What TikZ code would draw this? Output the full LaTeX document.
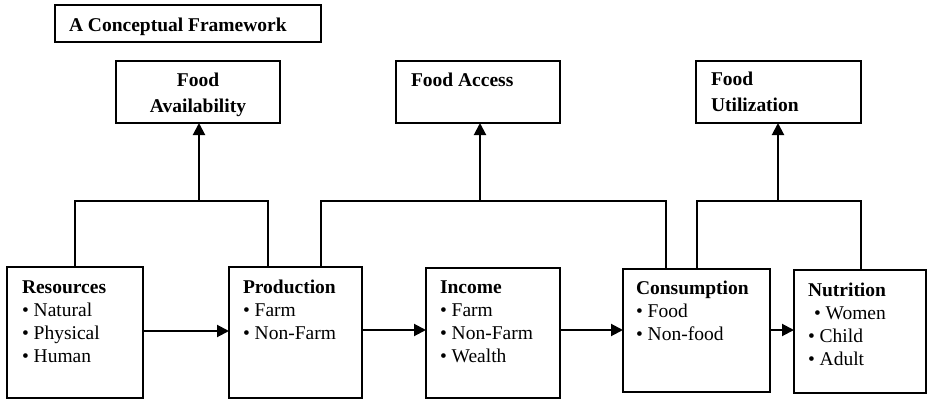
\documentclass[tikz,border=0pt]{standalone}
\usepackage{fontspec}
\setmainfont{Liberation Serif}
\usetikzlibrary{arrows.meta}
\begin{document}
\begin{tikzpicture}[x=1pt,y=-1pt,
  box/.style={draw,line width=2pt,outer sep=0pt,inner sep=0pt,anchor=north west},
  txt/.style={inner sep=0pt,outer sep=0pt,anchor=north west,align=left,font=\fontsize{19.5}{22.7}\selectfont},
  toptxt/.style={inner sep=0pt,outer sep=0pt,font=\fontsize{19.5}{25.5}\selectfont\bfseries},
  conn/.style={line width=2pt},
  arr/.style={line width=2pt,-{Triangle[length=12pt,width=12pt]}}]
\useasboundingbox[fill=white] (0,0) rectangle (927,399);
% boxes
\node[box,minimum width=266pt,minimum height=37pt] (title) at (55,5) {};
\node[box,minimum width=164pt,minimum height=62pt] (fa) at (116,61) {};
\node[box,minimum width=164pt,minimum height=62pt] (facc) at (396,61) {};
\node[box,minimum width=165pt,minimum height=62pt] (fu) at (696,61) {};
\node[box,minimum width=136pt,minimum height=131pt] (res) at (7,267) {};
\node[box,minimum width=133pt,minimum height=131pt] (prod) at (229,267) {};
\node[box,minimum width=134pt,minimum height=130pt] (inc) at (426,268) {};
\node[box,minimum width=147pt,minimum height=123pt] (cons) at (623,269) {};
\node[box,minimum width=132pt,minimum height=123pt] (nut) at (794,270) {};
% texts
\node[toptxt,anchor=base west] (ttitle) at (69,31) {A Conceptual Framework};
\node[toptxt,anchor=north,align=center] (tfa) at (198,87-17.9) {\strut Food\\Availability};
\node[toptxt,anchor=north west,align=left] (tfacc) at (411,87-17.9) {\strut Food Access};
\node[toptxt,anchor=north west,align=left] (tfu) at (711,86-17.9) {\strut Food\\Utilization};
\node[txt] (tres) at (22,294-15.9) {\strut\textbf{Resources}\\• Natural\\• Physical\\• Human};
\node[txt] (tprod) at (243,294-15.9) {\strut\textbf{Production}\\• Farm\\• Non-Farm};
\node[txt] (tinc) at (440,294-15.9) {\strut\textbf{Income}\\• Farm\\• Non-Farm\\• Wealth};
\node[txt] (tcons) at (636,295-15.9) {\strut\textbf{Consumption}\\• Food\\• Non-food};
\node[txt] (tnut) at (808,297-15.9) {\strut\textbf{Nutrition}\\\hspace{6pt}• Women\\• Child\\• Adult};
% junction coordinates
\coordinate (j1) at (199,201);
\coordinate (j2) at (480,201);
\coordinate (j3) at (778,201);
\coordinate (p1) at (268,267);
\coordinate (p2) at (321,267);
\coordinate (c1) at (666,269);
\coordinate (c2) at (697,269);
\coordinate (n1) at (861,270);
\coordinate (ya) at (0,331);
\coordinate (yb) at (0,330);
% branch connectors
\draw[conn] (res.north) |- (j1) -| (p1);
\draw[arr] (j1) -- (j1 |- fa.south);
\draw[conn] (p2) |- (j2) -| (c1);
\draw[arr] (j2) -- (j2 |- facc.south);
\draw[conn] (c2) |- (j3) -| (n1);
\draw[arr] (j3) -- (j3 |- fu.south);
% flow arrows
\draw[arr] (res.east |- ya) -- (prod.west |- ya);
\draw[arr] (prod.east |- yb) -- (inc.west |- yb);
\draw[arr] (inc.east |- yb) -- (cons.west |- yb);
\draw[arr] (cons.east |- yb) -- (nut.west |- yb);
\end{tikzpicture}
\end{document}
